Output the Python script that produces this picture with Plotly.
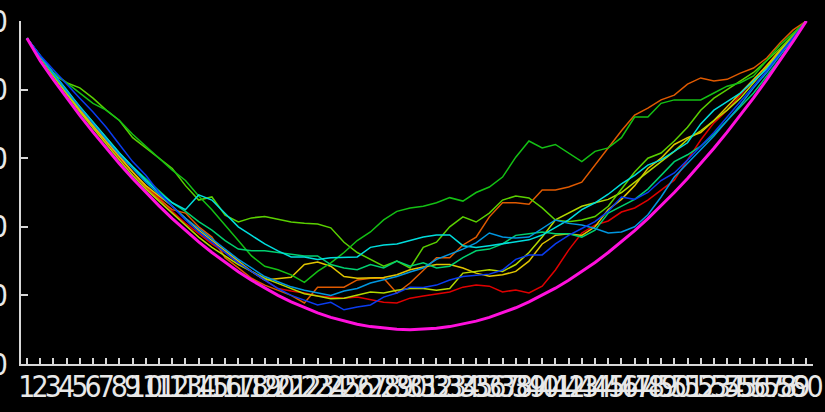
import plotly.graph_objects as go

x_idx = list(range(1, 61))
x_labels = [str(i) for i in x_idx]
y_ticks = [0, 20, 40, 60, 80, 100]
y_labels = [str(v) for v in y_ticks]

red = [95, 89.5, 84, 79, 74, 69, 64.5, 60, 56, 52,
       48.5, 44.5, 41, 38, 35, 32.5, 29.5, 27, 24.5, 22,
       21.3, 20.7, 19.8, 19.5, 19.2, 19.5, 18.7, 18, 17.8, 19.2,
       19.8, 20.4, 21, 22.4, 23, 22.7, 21, 21.6, 20.7, 22.7,
       27.4, 33.2, 38.2, 40.5, 41.7, 44.3, 45.5, 47.8, 50.7, 53.6,
       59.5, 65.3, 70.3, 74, 78.4, 82.8, 87.2, 91.5, 95.6, 100]
orange = [95, 89.8, 84.5, 79.5, 74.5, 69.5, 65, 60.5, 56, 51.5,
          48, 45, 44, 40, 37, 31, 28, 25, 23, 21.6,
          20, 17.8, 22.4, 22.4, 22.4, 24.5, 25, 25, 20.7, 23.6,
          27.4, 31, 31, 34.7, 37, 42.9, 47, 47, 46.6, 50.7,
          50.7, 51.6, 53, 58, 63, 68, 72.6, 74.6, 77, 78.4,
          81.6, 83.4, 82.5, 83, 84.8, 86.3, 89.2, 93.6, 97.4, 100]
yellow = [95, 89.6, 84.3, 79, 74, 69.5, 65, 60.5, 56, 52,
          49, 46, 42.5, 39, 36, 33, 30, 27, 24.5, 25,
          25.3, 29, 29.7, 28.5, 25.5, 25, 25, 25.2, 26, 27.5,
          28.3, 29, 29, 28, 26.5, 25.6, 26, 27, 30, 35,
          37.5, 38, 37.5, 40, 45, 48, 52, 57, 60, 64,
          66, 67.5, 71, 75, 79, 83, 87, 91.5, 96, 100]
yellowgreen = [95, 89.4, 84, 78.8, 73.5, 68.8, 64, 59.5, 55, 51,
               47.5, 44, 40.5, 37, 34, 31.5, 29, 27, 25, 23.5,
               22, 20.5, 19.8, 19, 19.2, 20, 21, 20.7, 21.5, 22,
               22, 21.5, 22, 26.5, 27, 27.5, 27, 29, 32.5, 37,
               42, 44, 46, 47, 48, 50, 53, 56, 59, 62,
               65.5, 68, 71, 74, 77.5, 82, 86.5, 91, 95.5, 100]
green_a = [95, 89.8, 85, 82, 79, 76, 74, 71, 67, 63.5,
           60, 56.5, 53.5, 49, 45, 40.5, 36, 31.5, 28.5, 27.5,
           26, 23.8, 27, 29.5, 32.5, 36, 38.5, 42, 44.5, 45.5,
           46, 47, 48.5, 47.5, 50, 51.6, 54.5, 60.3, 65, 63,
           64, 61.5, 59, 62, 63, 66, 72, 72, 76, 77,
           77, 77, 79, 81, 82, 84, 88.5, 93, 96.5, 100]
green_b = [95, 89.8, 84.5, 82, 80.5, 77.5, 74, 71, 66, 63,
           60, 57, 52, 47.8, 48.7, 43.4, 41.4, 42.6, 43, 42.3,
           41.4, 41, 40.8, 39.7, 35.5, 32.5, 30.5, 28.5, 30, 28,
           34, 35.5, 40, 42.9, 41.4, 44, 47.8, 49, 48.4, 45.5,
           42, 41.5, 42, 43, 46, 51, 56, 60, 61.5, 65,
           69, 74, 77.5, 80, 82.5, 85, 88.5, 92, 96, 100]
seagreen = [95, 89.7, 84.5, 79.5, 75, 70.5, 66, 61.5, 57.5, 54,
            50.5, 47, 44.5, 41.5, 39, 36, 33.5, 33, 33, 32.5,
            32, 31.5, 31.5, 29, 28, 27.5, 29, 28, 30, 28.5,
            29.5, 28, 28.5, 31, 33, 33.5, 35, 37.5, 38, 38.5,
            38, 38, 37, 39, 44, 46, 48, 51, 55, 59,
            61, 63.5, 67, 71, 75, 79, 84, 89, 94.5, 100]
cyan = [95, 89.8, 84.8, 80, 75, 70.5, 66, 61.5, 57.5, 53.5,
        50, 47, 45, 49.3, 47.8, 44, 40, 37.5, 35, 33,
        31.2, 31.2, 30.5, 31, 31.2, 31.2, 34, 34.7, 35, 36,
        37, 37.6, 37.6, 34.5, 34, 34.5, 35, 35.5, 36.2, 37.6,
        39.7, 42, 45, 47, 49.5, 52.5, 55, 58, 59.5, 62,
        64.5, 70, 74, 76.5, 79, 82.5, 86, 90.5, 95, 100]
skyblue = [95, 89.9, 84.6, 79.6, 74.8, 70, 65.5, 61, 57, 53,
           49.5, 46, 42.5, 39.5, 36.5, 33.5, 30.5, 28, 25.5, 24,
           22.5, 21.5, 20.7, 20, 21.3, 22, 23.6, 24.5, 25.5, 26.8,
           28, 30.5, 32, 33.5, 35.3, 38.2, 37, 36.7, 37, 39.5,
           42, 41, 40.5, 39.5, 38.2, 38.5, 40, 43.5, 48.7, 54.5,
           58.5, 62.5, 66.5, 71, 75.5, 80.5, 85, 90, 95, 100]
blue = [95, 90, 85.8, 81.5, 77.5, 73.5, 69, 64, 59, 55,
        50, 46, 42, 38.5, 35.5, 32.5, 29.5, 27, 24.5, 22,
        20, 18.5, 17.2, 18, 15.8, 16.6, 17.2, 19.5, 20.7, 22.4,
        22.3, 23, 24.5, 25.5, 25.8, 26.2, 27.4, 30.5, 31.8, 31.8,
        35, 37.5, 39.5, 41.5, 44.5, 48.7, 48, 50, 53.5, 55.7,
        59.5, 63.5, 67.5, 72, 76.5, 81, 85.5, 90.5, 95.2, 100]
magenta = [95, 88.4, 82.9, 77.6, 72.5, 67.6, 62.9, 58.4, 54.1, 50.0,
           46.1, 42.4, 38.9, 35.6, 32.5, 29.6, 26.9, 24.4, 22.1, 20.0,
           18.1, 16.4, 14.9, 13.6, 12.5, 11.6, 10.9, 10.4, 10.1, 10.0,
           10.1, 10.4, 10.9, 11.6, 12.5, 13.6, 14.9, 16.4, 18.1, 20.0,
           22.1, 24.4, 26.9, 29.6, 32.5, 35.6, 38.9, 42.4, 46.1, 50.0,
           54.1, 58.4, 62.9, 67.6, 72.5, 77.6, 82.9, 88.4, 94.1, 100.0]

series = [
    (red, "#e00000"),
    (orange, "#e05a00"),
    (yellow, "#e0c400"),
    (yellowgreen, "#b4d800"),
    (green_b, "#5ad000"),
    (green_a, "#14c014"),
    (seagreen, "#00d070"),
    (cyan, "#00dede"),
    (skyblue, "#0096e0"),
    (blue, "#0a3cf0"),
]

fig = go.Figure()
for vals, col in series:
    fig.add_trace(go.Scatter(x=x_idx, y=vals, mode="lines",
                             line=dict(color=col, width=1.5),
                             hoverinfo="skip", showlegend=False))
fig.add_trace(go.Scatter(x=x_idx, y=magenta, mode="lines",
                         line=dict(color="#ff10dc", width=3),
                         hoverinfo="skip", showlegend=False))

axis_col = "#d8d8d8"
tick_font = dict(family="Liberation Sans Narrow, DejaVu Sans Condensed, sans-serif",
                 size=30, color="#e8e8e8")
fig.update_layout(
    template="none",
    width=825, height=412,
    margin=dict(l=21, r=12, t=21, b=48, pad=0),
    paper_bgcolor="black", plot_bgcolor="black",
    showlegend=False,
    xaxis=dict(range=[0.55, 60.5], tickmode="array", tickvals=x_idx, ticktext=x_labels,
               tickangle=0,
               ticks="inside", ticklen=6, tickwidth=1.5, tickcolor=axis_col,
               showline=True, linecolor=axis_col, linewidth=2,
               showgrid=False, zeroline=False, automargin=False,
               tickfont=tick_font, ticklabelstandoff=-5),
    yaxis=dict(range=[0, 100], tickmode="array", tickvals=y_ticks, ticktext=y_labels,
               ticks="inside", ticklen=7, tickwidth=1.5, tickcolor=axis_col,
               showline=True, linecolor=axis_col, linewidth=2,
               showgrid=False, zeroline=False, automargin=False,
               tickfont=tick_font, ticklabelstandoff=5),
)
fig.write_html("out.html")
